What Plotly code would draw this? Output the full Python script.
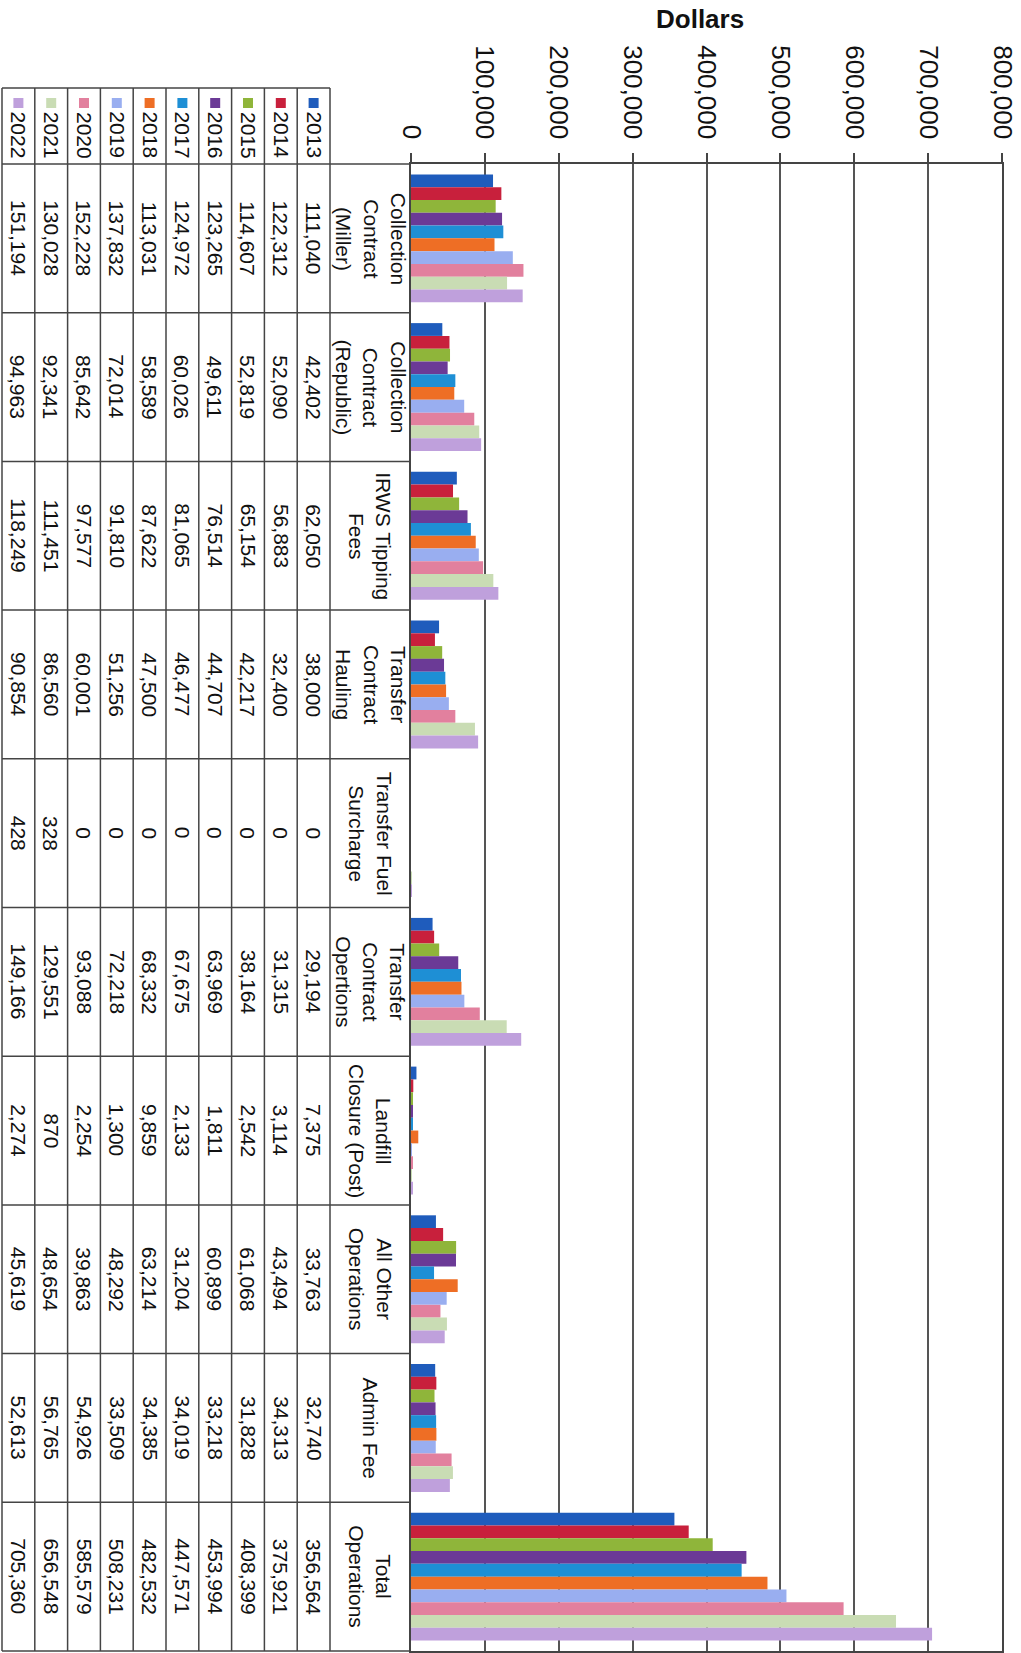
import plotly.graph_objects as go

# ---------------- data ----------------
categories = [
    "Collection<br>Contract<br>(Miller)",
    "Collection<br>Contract<br>(Republic)",
    "IRWS Tipping<br>Fees",
    "Transfer<br>Contract<br>Hauling",
    "Transfer Fuel<br>Surcharge",
    "Transfer<br>Contract<br>Opertions",
    "Landfill<br>Closure (Post)",
    "All Other<br>Operations",
    "Admin Fee",
    "Total<br>Operations",
]
years = ["2013", "2014", "2015", "2016", "2017", "2018", "2019", "2020", "2021", "2022"]

v2013 = [111040, 42402, 62050, 38000, 0, 29194, 7375, 33763, 32740, 356564]
v2014 = [122312, 52090, 56883, 32400, 0, 31315, 3114, 43494, 34313, 375921]
v2015 = [114607, 52819, 65154, 42217, 0, 38164, 2542, 61068, 31828, 408399]
v2016 = [123265, 49611, 76514, 44707, 0, 63969, 1811, 60899, 33218, 453994]
v2017 = [124972, 60026, 81065, 46477, 0, 67675, 2133, 31204, 34019, 447571]
v2018 = [113031, 58589, 87622, 47500, 0, 68332, 9859, 63214, 34385, 482532]
v2019 = [137832, 72014, 91810, 51256, 0, 72218, 1300, 48292, 33509, 508231]
v2020 = [152228, 85642, 97577, 60001, 0, 93088, 2254, 39863, 54926, 585579]
v2021 = [130028, 92341, 111451, 86560, 328, 129551, 870, 48654, 56765, 656548]
v2022 = [151194, 94963, 118249, 90854, 428, 149166, 2274, 45619, 52613, 705360]
series = [v2013, v2014, v2015, v2016, v2017, v2018, v2019, v2020, v2021, v2022]

colors = ["#1f5cbc", "#c8203c", "#8fb53a", "#6b3a96", "#1e8fd5",
          "#ee6e25", "#99aef0", "#e2809e", "#c9dcb4", "#bfa0dc"]

x_ticks = [0, 100000, 200000, 300000, 400000, 500000, 600000, 700000, 800000]
x_tick_text = ["0", "100,000", "200,000", "300,000", "400,000",
               "500,000", "600,000", "700,000", "800,000"]

# ---------------- layout constants (pixels) ----------------
W, H = 1021, 1653
PLOT_L, PLOT_R, PLOT_T, PLOT_B = 411, 1002, 164, 1651
TABLE_L, TABLE_R, TABLE_T = 2, 330, 88
COL_W = (TABLE_R - TABLE_L) / len(years)
FONT = "Liberation Sans, Arial, sans-serif"
LINE = "#444444"
TXT = "#111111"


def px(x):
    return x / W


def py(y):
    return 1 - y / H


fig = go.Figure()
for yr, vals, col in zip(years, series, colors):
    fig.add_trace(go.Bar(
        x=vals, y=list(range(len(categories))), orientation="h", name=yr,
        marker=dict(color=col, line=dict(width=0)), showlegend=False,
    ))

shapes = []
annotations = []


def hline(x0, x1, y0, yref="paper"):
    yy = y0 if yref == "y" else py(y0)
    shapes.append(dict(type="line", xref="paper", yref=yref,
                       x0=px(x0), x1=px(x1), y0=yy, y1=yy,
                       line=dict(color=LINE, width=1.5)))


# band separator lines across table and category column
for k in range(1, len(categories)):
    hline(TABLE_L, PLOT_L, k - 0.5, yref="y")
hline(TABLE_L, TABLE_R, TABLE_T)
hline(TABLE_L, PLOT_L, PLOT_T)
hline(TABLE_L, PLOT_L, PLOT_B)
# vertical table lines
for k in range(len(years) + 1):
    xx = TABLE_L + k * COL_W
    shapes.append(dict(type="line", xref="paper", yref="paper",
                       x0=px(xx), x1=px(xx), y0=py(TABLE_T), y1=py(PLOT_B),
                       line=dict(color=LINE, width=1.5)))


def note(x, y, text, size=21, yref="paper", bold=False):
    annotations.append(dict(
        xref="paper", yref=yref, x=px(x), y=(y if yref == "y" else py(y)),
        xanchor="center", yanchor="middle", text=text, showarrow=False,
        textangle=0 if bold else 90,
        font=dict(family=FONT, size=size, color=TXT)))


# header: legend keys and years; table values
for j, (yr, col) in enumerate(zip(years, colors)):
    cx = TABLE_R - (j + 0.5) * COL_W
    shapes.append(dict(type="rect", xref="paper", yref="paper",
                       x0=px(cx - 5), x1=px(cx + 5), y0=py(98), y1=py(108),
                       fillcolor=col, line=dict(width=0)))
    note(cx, 135, yr)
    for i, v in enumerate(series[j]):
        note(cx, i, f"{v:,}", yref="y")

# category labels
for i, cat in enumerate(categories):
    note((TABLE_R + PLOT_L) / 2, i, cat, yref="y")

# axis title
note(700, 19, "<b>Dollars</b>", size=26, bold=True)

fig.update_layout(
    width=W, height=H,
    margin=dict(l=0, r=0, t=0, b=0),
    paper_bgcolor="white", plot_bgcolor="white",
    barmode="group", bargap=0.14, bargroupgap=0,
    shapes=shapes, annotations=annotations,
    xaxis=dict(
        domain=[px(PLOT_L), px(PLOT_R)], side="top", range=[0, 800000],
        tickvals=x_ticks, ticktext=x_tick_text, tickangle=90,
        tickfont=dict(family=FONT, size=26, color=TXT), ticklabelstandoff=5,
        ticks="outside", ticklen=9, tickcolor=LINE, tickwidth=1.5,
        showgrid=True, gridcolor="#555555", gridwidth=1.5,
        zeroline=False, showline=True, linecolor=LINE, linewidth=1.5, mirror=True,
        fixedrange=True, automargin=False,
    ),
    yaxis=dict(
        domain=[py(PLOT_B), py(PLOT_T)], range=[len(categories) - 0.5, -0.5],
        showticklabels=False, showgrid=False, zeroline=False,
        showline=True, linecolor=LINE, linewidth=1.5, mirror=True, ticks="",
        fixedrange=True, automargin=False,
    ),
)

fig.write_html(
    "out.html",
    config={"displayModeBar": False},
    post_script="document.body.style.margin='0px';document.body.style.overflow='hidden';",
)
